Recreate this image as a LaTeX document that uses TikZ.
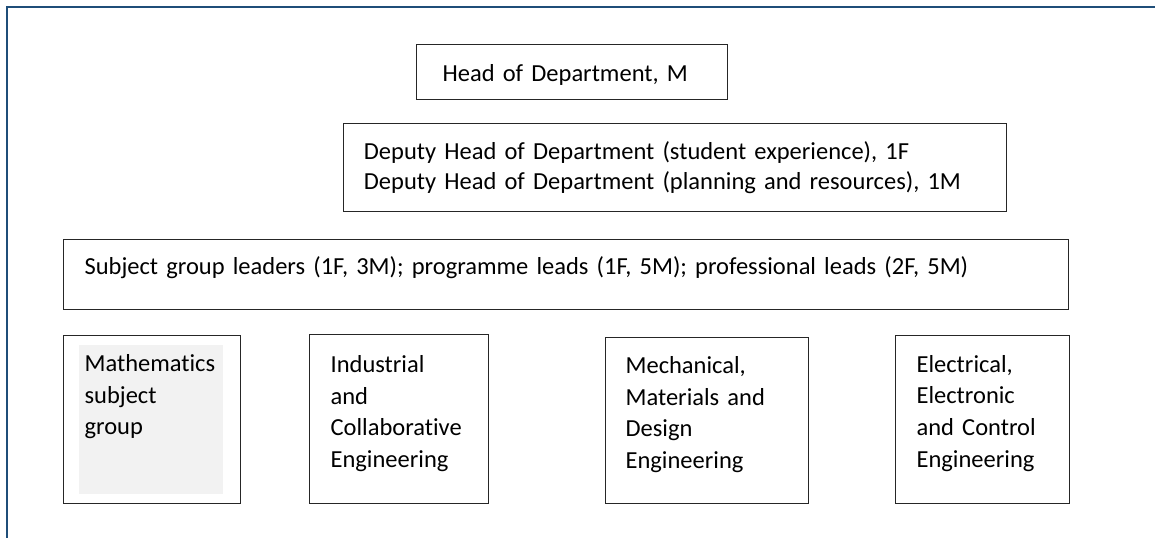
\documentclass[tikz,border=0pt]{standalone}
\usepackage{fontspec}
\setmainfont{Carlito}[Ligatures=NoCommon]
\usepackage{tikz}
\usetikzlibrary{positioning}
\definecolor{mframe}{HTML}{1F4E79}
\definecolor{mline}{HTML}{262626}
\definecolor{mshade}{HTML}{F2F2F2}
\tikzstyle{unit} = [rectangle, draw = mline, line width = 1.2pt, anchor = north west, align = left, inner ysep = 0pt, inner xsep = 21pt]
\tikzstyle{group} = [unit, text width = 135pt, text height = 36pt, text depth = 132pt]
\tikzstyle{frame} = [draw = mframe, line width = 2pt]

\begin{document}
\begin{tikzpicture}[x=1pt, y=-1pt, font=\fontsize{24.5}{31.6}\selectfont]
\useasboundingbox (0,0) rectangle (1155,538);
\draw [frame] (1155,7) -- (7,7) -- (7,538);
\node (hod) [unit, inner xsep = 26pt, text width = 259pt, text height = 37.3pt, text depth = 17.7pt] at (416,44) {Head of Department, M};
\node (deputy) [unit, inner xsep = 20.6pt, text width = 622pt, text height = 36.6pt, text depth = 51.4pt, font=\fontsize{24.5}{29.3}\selectfont] at (342.7,122.7) {Deputy Head of Department (student experience), 1F\\Deputy Head of Department (planning and resources), 1M};
\node (leads) [unit, text width = 963pt, text height = 35.3pt, text depth = 34.7pt] at (63,239) {Subject group leaders (1F, 3M); programme leads (1F, 5M); professional leads (2F, 5M)};
% shaded patch under the maths label
\fill [mshade] (79,345) rectangle (223,494);
\node (maths) [group] at (63,335) {Mathematics\\subject\\group};
\node (ice) [group, text width = 137pt, text height = 38pt, text depth = 131pt] at (309,334) {Industrial\\and\\Collaborative\\Engineering};
\node (mmde) [group, inner xsep = 20pt, text width = 163pt, text height = 36pt, text depth = 130pt] at (605,337) {Mechanical,\\Materials and\\Design\\Engineering};
\node (eece) [group, text width = 132pt, text height = 36.7pt, text depth = 131.3pt] at (895,335) {Electrical,\\Electronic\\and Control\\Engineering};
\end{tikzpicture}
\end{document}
